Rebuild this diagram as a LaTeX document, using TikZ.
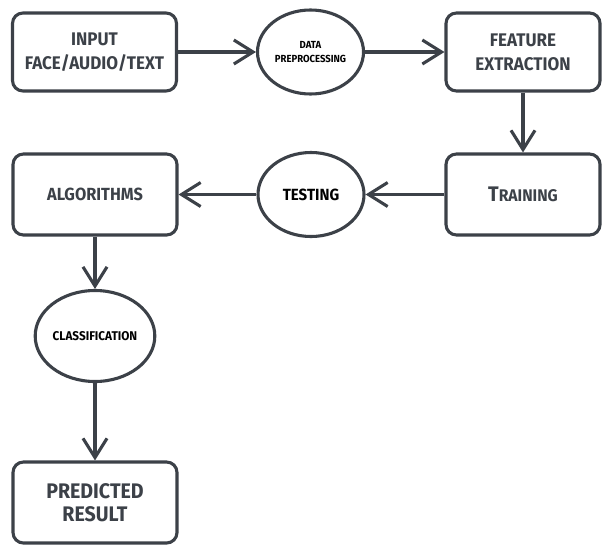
\documentclass[tikz,border=0pt]{standalone}
\usepackage{fontspec}
\usepackage{tikz}
\usetikzlibrary{arrows.meta,shapes.geometric}
\newfontfamily\boxfont[FakeStretch=0.93]{Fira Sans}
\definecolor{slate}{RGB}{60,65,72}

\begin{document}
\begin{tikzpicture}[x=0.025cm,y=-0.025cm,
box/.style={draw=slate,line width=2.2pt,rounded corners=0.26cm,fill=white,align=center,
  minimum width=164*0.025cm,minimum height=81*0.025cm,text=slate},
oval/.style={draw=slate,line width=2.2pt,ellipse,inner sep=0pt,align=center,
  minimum width=106*0.025cm,minimum height=84*0.025cm},
arr/.style={-{Straight Barb[length=0.48cm,width=0.6cm,line width=2.2pt]},line width=2.2pt,draw=slate}]

\path[use as bounding box](0,0)rectangle(602,545);
% top row
\node[box,minimum height=78*0.025cm,font=\boxfont\bfseries\fontsize{13}{17}\selectfont](input)at(94.5,52){INPUT\\FACE/AUDIO/TEXT};
\node[oval,font=\boxfont\bfseries\fontsize{7.3}{10.5}\selectfont](prep)at(310.5,52){DATA\\PREPROCESSING};
\node[box,minimum width=154*0.025cm,minimum height=78*0.025cm,font=\boxfont\bfseries\fontsize{13}{17}\selectfont](feat)at(523,52){FEATURE\\EXTRACTION};
% middle row
\node[box,minimum width=154*0.025cm,font=\boxfont\bfseries\fontsize{15}{17}\selectfont](train)at(523,194.5){T{\fontsize{12}{14}\selectfont RAINING}};
\node[oval,font=\boxfont\bfseries\fontsize{11.5}{14}\selectfont](test)at(311,194.5){TESTING};
\node[box,font=\boxfont\bfseries\fontsize{12.5}{15}\selectfont](algo)at(95,194.5){ALGORITHMS};
% bottom column
\node[oval,minimum width=112*0.025cm,minimum height=91*0.025cm,font=\boxfont\bfseries\fontsize{9}{11}\selectfont](clas)at(95,336){CLASSIFICATION};
\node[box,font=\boxfont\bfseries\fontsize{15}{16.5}\selectfont](pred)at(95,502.5){PREDICTED\\RESULT};

\draw[arr](input)--(prep);
\draw[arr](prep)--(feat);
\draw[arr](feat)--(train);
\draw[arr](train)--(test);
\draw[arr](test)--(algo);
\draw[arr](algo)--(clas);
\draw[arr](clas)--(pred);
\end{tikzpicture}
\end{document}
